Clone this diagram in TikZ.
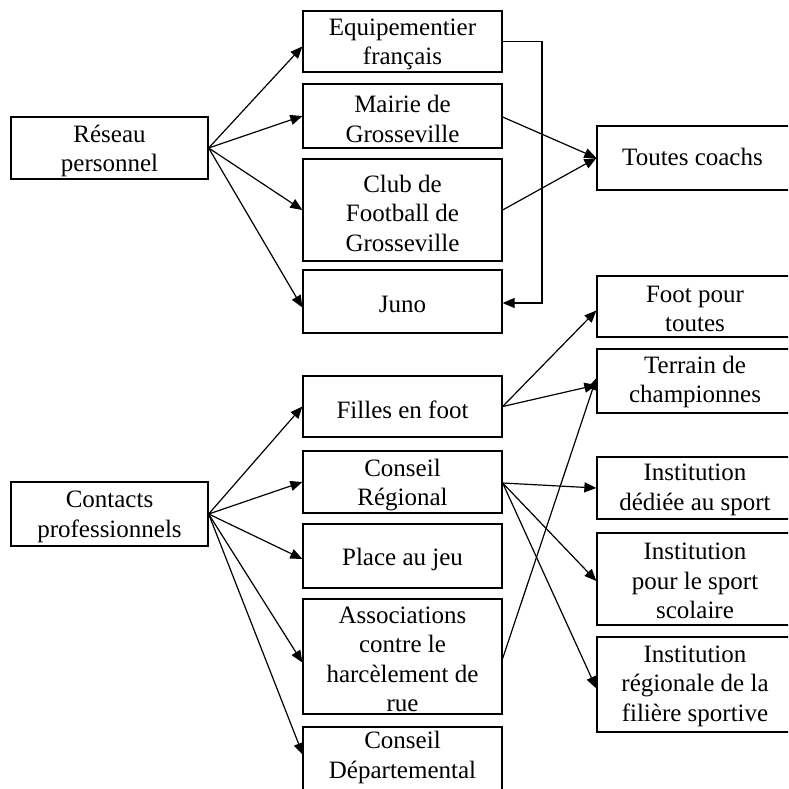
\documentclass[tikz,border=0pt]{standalone}
\usepackage{fontspec}
\setmainfont{Liberation Serif}
\usetikzlibrary{arrows.meta}
\tikzset{
  box/.style={draw, line width=1.3pt, rectangle, inner sep=0pt},
  txt/.style={align=center, inner sep=0pt, font=\fontsize{25}{29.5}\selectfont},
  arr/.style={line width=1.2pt, -{Triangle[length=12pt,width=10pt]}},
}
\newcommand{\bx}[6]{%
  \node[box, minimum width={#4-#2}, minimum height={#5-#3}] (#1) at ({(#2+#4)/2},{(#3+#5)/2}) {};
  \node[txt] (#1-t) at ({(#2+#4)/2},{(#3+#5)/2+3}) {#6};
}
\begin{document}
\begin{tikzpicture}[x=1pt,y=-1pt]
\useasboundingbox (0,0) rectangle (788,789);
\clip (0,0) rectangle (788,789);
% left column
\bx{res}{11}{117}{208}{179}{Réseau\\personnel}
\bx{con}{11}{482}{208}{546}{Contacts\\professionnels}
% middle column
\bx{equ}{303}{11}{502}{72}{Equipementier\\français}
\bx{mai}{303}{84}{502}{148}{Mairie de\\Grosseville}
\bx{clu}{303}{159}{502}{261}{Club de\\Football de\\Grosseville}
\bx{jun}{303}{270}{502}{333}{Juno}
\bx{fil}{303}{376}{502}{437}{Filles en foot}
\bx{cre}{303}{451}{502}{513}{Conseil\\Régional}
\bx{pla}{303}{524}{502}{588}{Place au jeu}
\bx{ass}{303}{599}{502}{714}{Associations\\contre le\\harcèlement de\\rue}
\node[box, minimum width=199, minimum height=90] (cde) at (402.5,772) {};
\node[txt, anchor=north] (cde-t) at (402.5,731) {Conseil\\Départemental};
% right column
\bx{tou}{597}{126}{800}{190}{}
\node[txt, anchor=base west] (tou-t) at (622,165) {Toutes coachs};
\bx{foo}{597}{276}{800}{337}{}
\node[txt] (foo-t) at (695,309) {Foot pour\\toutes};
\bx{ter}{597}{349}{800}{413}{}
\node[txt] (ter-t) at (695,382) {Terrain de\\championnes};
\bx{ide}{597}{457}{800}{519}{}
\node[txt] (ide-t) at (695,490) {Institution\\dédiée au sport};
\bx{ips}{597}{533}{800}{625}{}
\node[txt] (ips-t) at (695,581) {Institution\\pour le sport\\scolaire};
\bx{irg}{597}{637}{800}{732}{}
\node[txt] (irg-t) at (695,686) {Institution\\régionale de la\\filière sportive};
% arrows from Réseau personnel
\draw[arr] (res.east) -- ([yshift=-5pt]equ.west);
\draw[arr] (res.east) -- (mai.west);
\draw[arr] (res.east) -- (clu.west);
\draw[arr] (res.east) -- ([yshift=-6pt]jun.west);
% elbow
\coordinate (elb1) at (542,42);
\coordinate (elb2) at (542,303);
\draw[arr] ([yshift=0pt]equ.east) -| (elb1) -- (elb2) -- (jun.east |- elb2);
% to Toutes coachs
\draw[arr] ([yshift=-1pt]mai.east) -- ([yshift=0pt]tou.west);
\draw[arr] ([yshift=0pt]clu.east) -- ([yshift=0pt]tou.west);
% arrows from Contacts professionnels
\draw[arr] (con.east) -- (fil.west);
\draw[arr] (con.east) -- (cre.west);
\draw[arr] (con.east) -- ([yshift=-3pt]pla.west);
\draw[arr] (con.east) -- ([yshift=-6pt]ass.west);
\draw[arr] (con.east) -- (303,755);
% to right column
\draw[arr] (fil.east) -- ([yshift=-4pt]foo.west);
\draw[arr] (fil.east) -- ([yshift=-4pt]ter.west);
\draw[arr] ([yshift=-2pt]ass.east) -- ([yshift=3pt]ter.west);
\draw[arr] ([yshift=-1pt]cre.east) -- ([yshift=0pt]ide.west);
\draw[arr] ([yshift=-1pt]cre.east) -- ([yshift=-2pt]ips.west);
\draw[arr] ([yshift=-1pt]cre.east) -- ([yshift=-4pt]irg.west);
\end{tikzpicture}
\end{document}
